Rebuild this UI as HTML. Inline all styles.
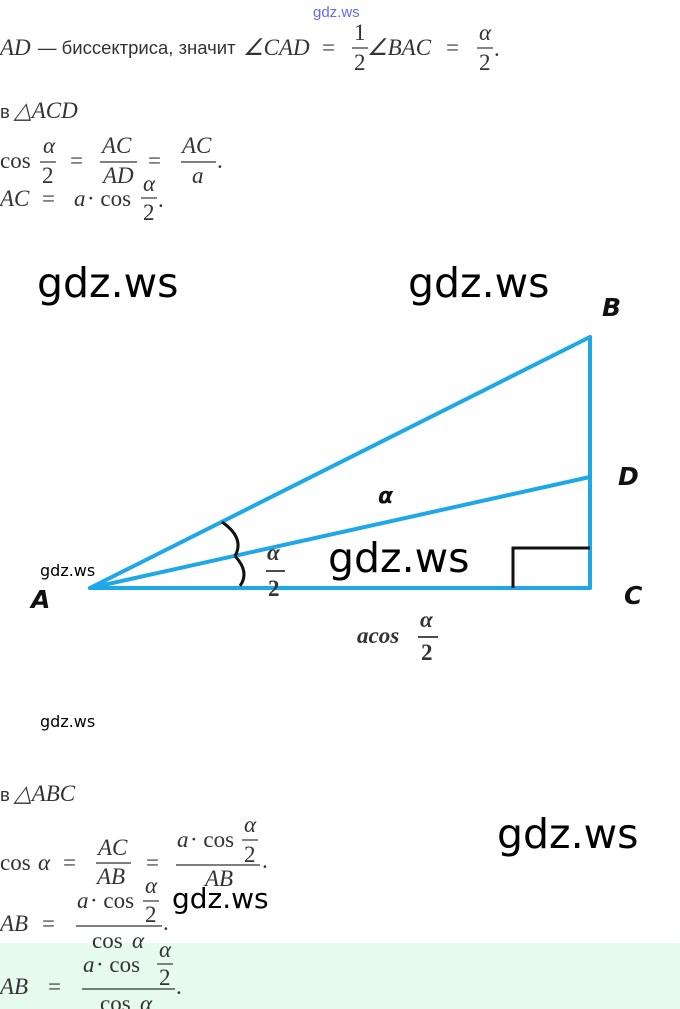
<!DOCTYPE html>
<html><head><meta charset="utf-8"><style>
html,body{margin:0;padding:0;background:#fff;width:680px;height:1009px;overflow:hidden}
svg{display:block}
.m{font-family:"Liberation Serif",serif;font-size:23px;fill:#333}
.i{font-style:italic}
.r{font-family:"Liberation Sans",sans-serif;font-size:18.5px;fill:#333}
.g{font-family:"DejaVu Sans","Liberation Sans",sans-serif;fill:#000}
.L{font-family:"DejaVu Sans","Liberation Sans",sans-serif;font-style:italic;font-weight:bold;fill:#111}
</style></head><body>
<svg width="680" height="1009" viewBox="0 0 680 1009" xmlns="http://www.w3.org/2000/svg">
<rect x="0" y="943" width="680" height="66" fill="#e6fbee"/>
<text x="313" y="17" font-family="Liberation Sans,sans-serif" font-size="15" fill="#6a6aee">gdz.ws</text>
<!-- line 1 -->
<text x="0" y="55" class="m i">AD</text>
<text x="38" y="54" class="r">— биссектриса, значит</text>
<text x="243" y="55" class="m i">∠CAD</text>
<text x="322" y="55" class="m">=</text>
<text x="354" y="40" class="m">1</text><line x1="352" y1="48" x2="368" y2="48" stroke="#333" stroke-width="1.2"/><text x="354" y="70" class="m">2</text>
<text x="367" y="55" class="m i">∠BAC</text>
<text x="446" y="55" class="m">=</text>
<text x="479" y="40" class="m i">α</text><line x1="477" y1="48" x2="493" y2="48" stroke="#333" stroke-width="1.2"/><text x="479" y="70" class="m">2</text><text x="494" y="56" class="m">.</text>
<!-- line 2 -->
<text x="0" y="118" class="r">в</text><text x="14" y="118" class="m i">△ACD</text>
<text x="0" y="168" class="m">cos</text>
<text x="43" y="153" class="m i">α</text><line x1="40" y1="162" x2="56" y2="162" stroke="#333" stroke-width="1.2"/><text x="42" y="183" class="m">2</text>
<text x="70" y="168" class="m">=</text>
<text x="102" y="153" class="m i">AC</text><line x1="100" y1="162" x2="137" y2="162" stroke="#333" stroke-width="1.2"/><text x="103" y="183" class="m i">AD</text>
<text x="148" y="168" class="m">=</text>
<text x="182" y="153" class="m i">AC</text><line x1="181" y1="162" x2="216" y2="162" stroke="#333" stroke-width="1.2"/><text x="192" y="183" class="m i">a</text><text x="217" y="168" class="m">.</text>
<text x="0" y="206" class="m i">AC</text><text x="42" y="206" class="m">=</text><text x="74" y="206" class="m i">a</text><text x="87" y="206" class="m">· cos</text>
<text x="143" y="191" class="m i">α</text><line x1="141" y1="198" x2="157" y2="198" stroke="#333" stroke-width="1.2"/><text x="143" y="220" class="m">2</text><text x="158" y="207" class="m">.</text>
<!-- diagram -->
<text x="37" y="297" class="g" font-size="41">gdz.ws</text>
<text x="408" y="297" class="g" font-size="41">gdz.ws</text>
<g stroke="#1ea8e8" stroke-width="4" fill="none" stroke-linecap="round">
<line x1="90" y1="588" x2="590" y2="588"/>
<line x1="590" y1="588" x2="590" y2="337"/>
<line x1="90" y1="588" x2="590" y2="337"/>
<line x1="90" y1="588" x2="590" y2="477"/>
</g>
<path d="M513 588 V548 H590" stroke="#111" stroke-width="3" fill="none"/>
<path d="M222 522 Q245 538 235 556" stroke="#111" stroke-width="3" fill="none"/>
<path d="M235 556 Q250 572 240 586" stroke="#111" stroke-width="3" fill="none"/>
<text x="602" y="316" class="L" font-size="25">B</text>
<text x="618" y="485" class="L" font-size="25">D</text>
<text x="624" y="604" class="L" font-size="25">C</text>
<text x="31" y="608" class="L" font-size="25">A</text>
<text x="378" y="503" class="L" font-size="22">α</text>
<text x="267" y="560" class="m i" font-weight="bold">α</text><line x1="266" y1="571" x2="285" y2="571" stroke="#111" stroke-width="1.5"/><text x="268" y="596" class="m" font-weight="bold" fill="#111">2</text>
<text x="357" y="643" class="m i" font-weight="bold" fill="#111">acos</text>
<text x="420" y="627" class="m i" font-weight="bold">α</text><line x1="418" y1="637" x2="438" y2="637" stroke="#111" stroke-width="1.5"/><text x="421" y="660" class="m" font-weight="bold" fill="#111">2</text>
<text x="328" y="572" class="g" font-size="41">gdz.ws</text>
<text x="40" y="576" class="g" font-size="16">gdz.ws</text>
<text x="40" y="727" class="g" font-size="16">gdz.ws</text>
<!-- bottom -->
<text x="0" y="801" class="r">в</text><text x="14" y="801" class="m i">△ABC</text>
<text x="0" y="870" class="m">cos</text><text x="38" y="870" class="m i">α</text><text x="63" y="870" class="m">=</text>
<text x="98" y="855" class="m i">AC</text><line x1="96" y1="863" x2="131" y2="863" stroke="#333" stroke-width="1.2"/><text x="97" y="884" class="m i">AB</text>
<text x="146" y="870" class="m">=</text>
<text x="177" y="847" class="m i">a</text><text x="190" y="847" class="m">· cos</text><text x="244" y="832" class="m i">α</text><line x1="242" y1="840" x2="258" y2="840" stroke="#333" stroke-width="1.2"/><text x="244" y="862" class="m">2</text>
<line x1="176" y1="865" x2="260" y2="865" stroke="#333" stroke-width="1.2"/><text x="205" y="886" class="m i">AB</text><text x="262" y="868" class="m">.</text>
<text x="497" y="848" class="g" font-size="41">gdz.ws</text>
<text x="0" y="931" class="m i">AB</text><text x="42" y="931" class="m">=</text>
<text x="77" y="908" class="m i">a</text><text x="90" y="908" class="m">· cos</text><text x="145" y="893" class="m i">α</text><line x1="143" y1="901" x2="159" y2="901" stroke="#333" stroke-width="1.2"/><text x="145" y="922" class="m">2</text>
<line x1="76" y1="926" x2="162" y2="926" stroke="#333" stroke-width="1.2"/><text x="92" y="948" class="m">cos</text><text x="132" y="948" class="m i">α</text><text x="163" y="930" class="m">.</text>
<text x="172" y="908" class="g" font-size="28">gdz.ws</text>
<text x="0" y="994" class="m i">AB</text><text x="48" y="994" class="m">=</text>
<text x="83" y="972" class="m i">a</text><text x="96" y="972" class="m">· cos</text><text x="159" y="957" class="m i">α</text><line x1="157" y1="964" x2="173" y2="964" stroke="#333" stroke-width="1.2"/><text x="159" y="985" class="m">2</text>
<line x1="82" y1="989" x2="175" y2="989" stroke="#333" stroke-width="1.2"/><text x="100" y="1011" class="m">cos</text><text x="140" y="1011" class="m i">α</text><text x="176" y="994" class="m">.</text>
</svg>
</body></html>
